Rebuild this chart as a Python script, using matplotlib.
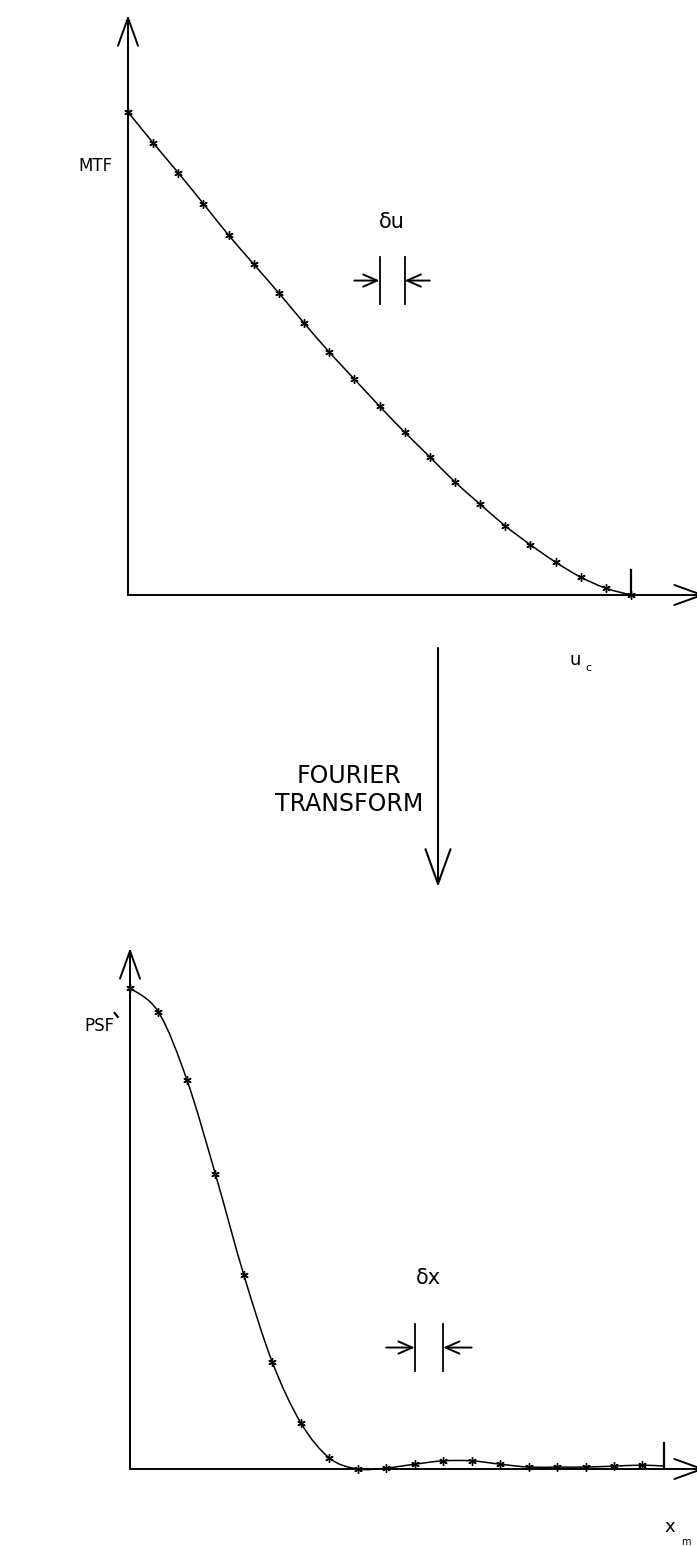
import numpy as np
import matplotlib.pyplot as plt
from matplotlib.path import Path
from matplotlib.patches import PathPatch

W, H = 697, 1546
plt.rcParams['font.family'] = ['DejaVu Sans']

# MTF sampled every du from 0 to the cut-off u_c (u in units of du)
mtf_u = list(range(21))
mtf_val = [1.0, 0.936, 0.874, 0.810, 0.745, 0.685, 0.625, 0.563, 0.503, 0.447, 0.391,
           0.337, 0.286, 0.234, 0.188, 0.143, 0.104, 0.068, 0.037, 0.014, 0.0]
u_c = 20

# PSF sampled every dx (x in units of dx), last point is x_m
x_m = 18.76
psf_x = list(range(19)) + [x_m]
psf_val = [1.0, 0.950, 0.809, 0.613, 0.403, 0.222, 0.096, 0.023, 0.0, 0.002, 0.010,
           0.017, 0.017, 0.010, 0.004, 0.004, 0.004, 0.006, 0.008, 0.006]

fig = plt.figure(figsize=(W / 100, H / 100), dpi=100)


def px_axes(left, top, right, bottom):
    """Axes placed by pixel edges of the figure."""
    return fig.add_axes([left / W, 1 - bottom / H, (right - left) / W, (bottom - top) / H])


def smooth_curve(ax, xs, ys, lw=1.1):
    """Draw a smooth curve through the points (cubic bezier, Catmull-Rom tangents)."""
    p = np.column_stack([xs, ys]).astype(float)
    ext = np.vstack([p[0], p, p[-1]])
    verts = [p[0]]
    codes = [Path.MOVETO]
    for i in range(len(p) - 1):
        c1 = ext[i + 1] + (ext[i + 2] - ext[i]) / 6
        c2 = ext[i + 2] - (ext[i + 3] - ext[i + 1]) / 6
        verts += [c1, c2, ext[i + 2]]
        codes += [Path.CURVE4] * 3
    ax.add_patch(PathPatch(Path(verts, codes), fill=False, lw=lw, edgecolor='black', clip_on=False))


def axis_arrow(ax, xy, xytext, scale=20, hl=1.0, hw=0.36, lw=1.4):
    ax.annotate('', xy=xy, xytext=xytext, xycoords='axes fraction', textcoords='axes fraction',
                arrowprops=dict(arrowstyle=f'->,head_length={hl},head_width={hw}', lw=lw,
                                color='black', shrinkA=0, shrinkB=0, mutation_scale=scale))


def spacing_marks(ax, k, y0, y1, ytxt, label):
    ym = (y0 + y1) / 2
    ax.plot([k, k], [y0, y1], color='black', lw=1.3)
    ax.plot([k + 1, k + 1], [y0, y1], color='black', lw=1.3)
    style = dict(arrowstyle='->,head_length=0.5,head_width=0.22', lw=1.4, color='black',
                 shrinkA=0, shrinkB=0, mutation_scale=20)
    ax.annotate('', xy=(k, ym), xytext=(k - 1, ym), arrowprops=style)
    ax.annotate('', xy=(k + 1, ym), xytext=(k + 2, ym), arrowprops=style)
    ax.text(k + 0.5, ytxt, label, ha='center', va='center', fontsize=15)


# ---- MTF panel
ax1 = px_axes(128, 15, 697, 595)
ax1.set_xlim(0, (697 - 128) / 25.15)
ax1.set_ylim(0, (595 - 15) / 483)
ax1.set_axis_off()
smooth_curve(ax1, mtf_u, mtf_val)
ax1.plot(mtf_u, mtf_val, lw=0, color='black', marker=(6, 2, 0), ms=6, mew=1.0, clip_on=False)
axis_arrow(ax1, (0, 1), (0, 0))
axis_arrow(ax1, (577 / 569, 0), (0, 0))
ax1.plot([u_c, u_c], [0, 0.052], color='black', lw=1.6)
spacing_marks(ax1, 10, 0.602, 0.700, 0.772, 'δu')
ax1.text(-0.6, 0.888, 'MTF', ha='right', va='center', fontsize=12)
ax1.text(u_c - 2.2, -0.135, 'u', ha='center', va='center', fontsize=13)
ax1.text(u_c - 1.7, -0.152, 'c', ha='center', va='center', fontsize=8)

# ---- PSF panel
ax2 = px_axes(130, 948, 697, 1469)
ax2.set_xlim(0, 567 / 28.47)
ax2.set_ylim(0, 521 / 481)
ax2.set_axis_off()
smooth_curve(ax2, psf_x, psf_val)
ax2.plot(psf_x[:-1], psf_val[:-1], color='black', lw=0, marker=(6, 2, 0), ms=6, mew=1.0, clip_on=False)
axis_arrow(ax2, (0, 1), (0, 0))
axis_arrow(ax2, (575 / 567, 0), (0, 0))
ax2.plot([x_m, x_m], [0, 0.054], color='black', lw=1.6)
spacing_marks(ax2, 10, 0.204, 0.301, 0.397, 'δx')
ax2.text(-0.55, 0.92, 'PSF', ha='right', va='center', fontsize=12)
# small stray pen mark left of the curve start
ax2.plot([-0.54, -0.43], [0.948, 0.940], color='black', lw=1.6, clip_on=False)
ax2.text(x_m + 0.2, -0.12, 'x', ha='center', va='center', fontsize=13)
ax2.text(x_m + 0.75, -0.152, 'm', ha='center', va='center', fontsize=7)

# ---- Fourier transform arrow between the panels
deco = fig.add_axes([0, 0, 1, 1])
deco.set_xlim(0, W)
deco.set_ylim(H, 0)
deco.set_axis_off()
deco.annotate('', xy=(438, 887), xytext=(438, 648),
              arrowprops=dict(arrowstyle='->,head_length=1.25,head_width=0.45', lw=1.5,
                              color='black', shrinkA=0, shrinkB=0, mutation_scale=20))
deco.text(349, 790, 'FOURIER\nTRANSFORM', ha='center', va='center', fontsize=17,
          linespacing=1.25)

fig.savefig('out.png', dpi=100)
